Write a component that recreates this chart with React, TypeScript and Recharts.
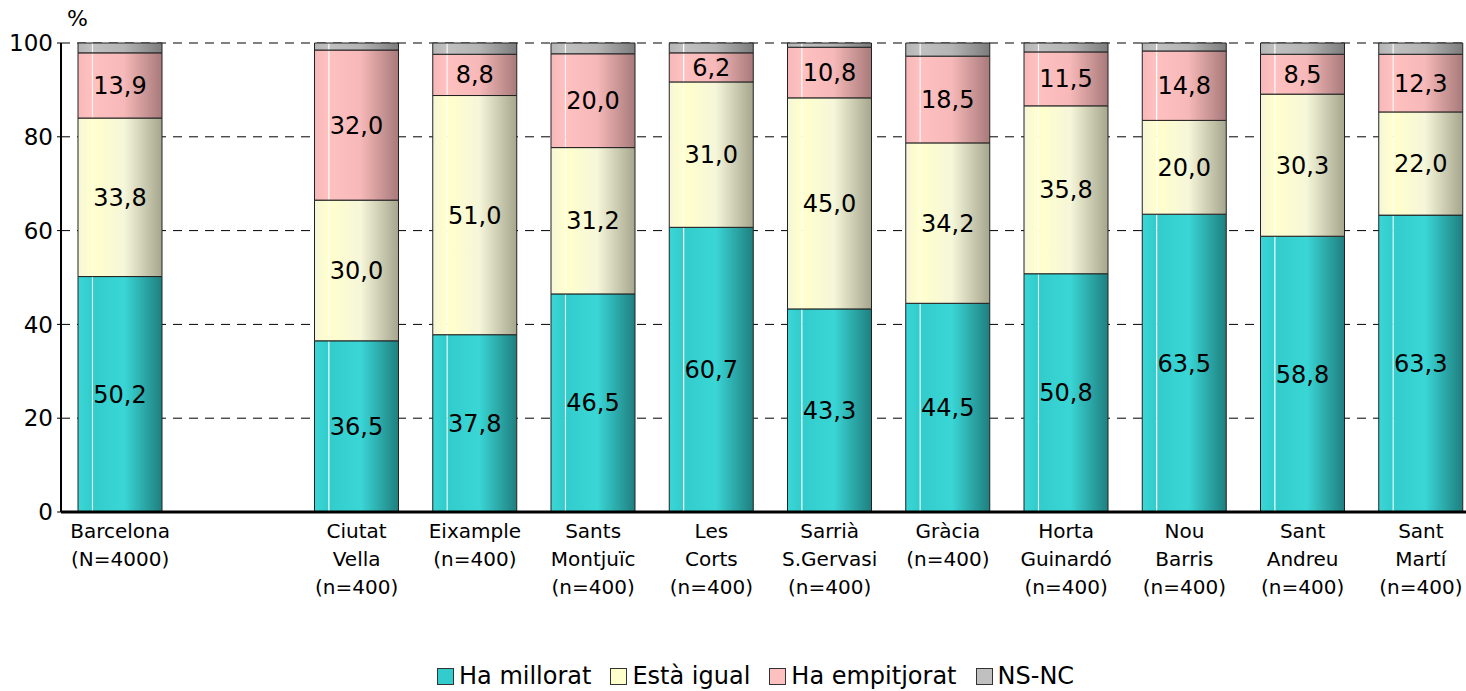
import { BarChart, Bar, XAxis, YAxis, CartesianGrid, LabelList } from 'recharts';

const categories = [
  'Barcelona\n(N=4000)',
  ' ',
  'Ciutat\nVella\n(n=400)',
  'Eixample\n(n=400)',
  'Sants\nMontjuïc\n(n=400)',
  'Les\nCorts\n(n=400)',
  'Sarrià\nS.Gervasi\n(n=400)',
  'Gràcia\n(n=400)',
  'Horta\nGuinardó\n(n=400)',
  'Nou\nBarris\n(n=400)',
  'Sant\nAndreu\n(n=400)',
  'Sant\nMartí\n(n=400)',
];

const millorat = [50.2, null, 36.5, 37.8, 46.5, 60.7, 43.3, 44.5, 50.8, 63.5, 58.8, 63.3];
const igual = [33.8, null, 30.0, 51.0, 31.2, 31.0, 45.0, 34.2, 35.8, 20.0, 30.3, 22.0];
const empitjorat = [13.9, null, 32.0, 8.8, 20.0, 6.2, 10.8, 18.5, 11.5, 14.8, 8.5, 12.3];
const nsnc = [2.1, null, 1.5, 2.4, 2.3, 2.1, 0.9, 2.8, 1.9, 1.7, 2.4, 2.4];

const yTicks = [0, 20, 40, 60, 80, 100];

const series = [
  { key: 'millorat', name: 'Ha millorat', color: '#33cccc', light: '#3ad6d6', dark: '#1f7f7f', label: true },
  { key: 'igual', name: 'Està igual', color: '#ffffcc', light: '#f6f6da', dark: '#a6a68e', label: true },
  { key: 'empitjorat', name: 'Ha empitjorat', color: '#ffc0c0', light: '#f6b8b8', dark: '#a87a7a', label: true },
  { key: 'nsnc', name: 'NS-NC', color: '#c0c0c0', light: '#b4b4b4', dark: '#7c7c7c', label: false },
];

const data = categories.map((c, i) => ({
  name: c,
  millorat: millorat[i],
  igual: igual[i],
  empitjorat: empitjorat[i],
  nsnc: nsnc[i],
}));

const FONT = '"DejaVu Sans", Verdana, sans-serif';

const fmt = (v: any) => (v == null ? '' : Number(v).toFixed(1).replace('.', ','));

function CategoryTick(props: any) {
  const { x, y, payload } = props;
  const lines = String(payload.value).split('\n');
  return (
    <text x={x} y={y} textAnchor="middle" fontSize={20} fontFamily={FONT} fill="#000">
      {lines.map((l, i) => (
        <tspan key={i} x={x} dy={i === 0 ? 18 : 28}>
          {l}
        </tspan>
      ))}
    </text>
  );
}

export default function App() {
  return (
    <div
      style={{
        position: 'absolute',
        left: 0,
        top: 0,
        width: 1466,
        height: 691,
        overflow: 'hidden',
        background: '#fff',
        fontFamily: FONT,
      }}
    >
      <div style={{ position: 'absolute', left: 67, top: 6, fontSize: 22 }}>%</div>
      <BarChart
        width={1480}
        height={691}
        data={data}
        margin={{ top: 43, right: 0, bottom: 0, left: 0 }}
        barSize={84}
      >
        <defs>
          {series.map((s) => (
            <linearGradient key={s.key} id={`g-${s.key}`} x1="0" y1="0" x2="1" y2="0">
              <stop offset="0" stopColor={s.light} />
              <stop offset="0.16" stopColor={s.color} />
              <stop offset="0.17" stopColor="#ffffff" stopOpacity={0.9} />
              <stop offset="0.185" stopColor={s.color} />
              <stop offset="0.55" stopColor={s.light} />
              <stop offset="1" stopColor={s.dark} />
            </linearGradient>
          ))}
        </defs>
        <CartesianGrid vertical={false} stroke="#000" strokeDasharray="9 7" />
        <XAxis
          dataKey="name"
          interval={0}
          height={179}
          tick={<CategoryTick />}
          tickLine={false}
          axisLine={{ stroke: '#000', strokeWidth: 3 }}
        />
        <YAxis
          domain={[0, 100]}
          ticks={yTicks}
          width={61}
          tick={{ fontSize: 23, fill: '#000', fontFamily: FONT }}
          tickSize={4}
          tickMargin={4}
          tickLine={{ stroke: '#000' }}
          axisLine={{ stroke: '#000', strokeWidth: 2 }}
        />
        {series.map((s) => (
          <Bar
            key={s.key}
            dataKey={s.key}
            name={s.name}
            stackId="a"
            fill={`url(#g-${s.key})`}
            stroke="#222"
            strokeWidth={1}
            isAnimationActive={false}
          >
            {s.label && (
              <LabelList
                dataKey={s.key}
                position="center"
                formatter={fmt}
                fill="#000"
                fontSize={24}
                fontFamily={FONT}
              />
            )}
          </Bar>
        ))}
      </BarChart>
      <div
        style={{
          position: 'absolute',
          left: 437,
          top: 662,
          display: 'flex',
          alignItems: 'center',
          fontSize: 24,
          color: '#000',
          whiteSpace: 'nowrap',
        }}
      >
        {series.map((s) => (
          <div key={s.key} style={{ display: 'flex', alignItems: 'center', marginRight: 19 }}>
            <span
              style={{
                display: 'inline-block',
                width: 15,
                height: 15,
                background: s.color,
                border: '1px solid #333',
                marginRight: 5,
              }}
            />
            <span>{s.name}</span>
          </div>
        ))}
      </div>
    </div>
  );
}
